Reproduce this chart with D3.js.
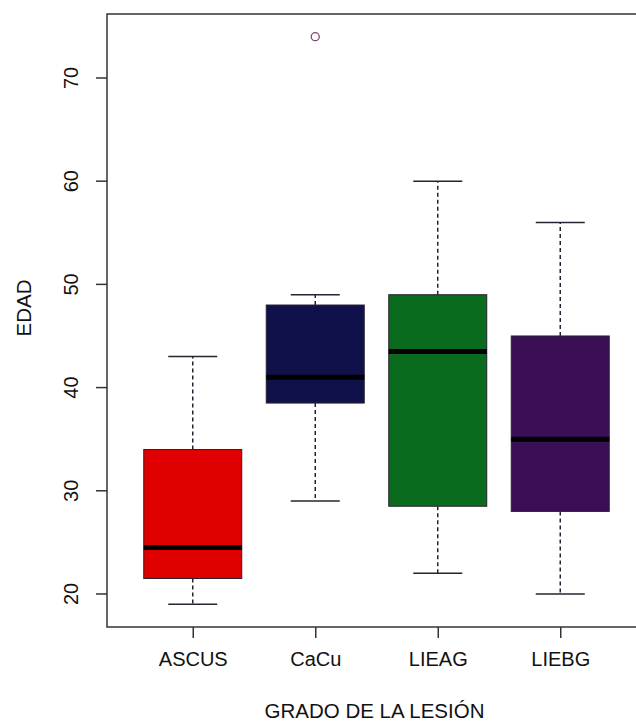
<!DOCTYPE html>
<html>
<head>
<meta charset="utf-8">
<script src="https://cdn.jsdelivr.net/npm/d3@7"></script>
<style>
  body { margin: 0; background: #fff; }
  svg { display: block; font-family: "Liberation Sans", Arial, sans-serif; }
</style>
</head>
<body>
<svg id="chart" width="636" height="722"></svg>
<script>
// boxplot stats
var categories = ["ASCUS", "CaCu", "LIEAG", "LIEBG"];
var whiskerLow = [19, 29, 22, 20];
var q1 = [21.5, 38.5, 28.5, 28];
var median = [24.5, 41, 43.5, 35];
var q3 = [34, 48, 49, 45];
var whiskerHigh = [43, 49, 60, 56];
var outliers = [[], [74], [], []];
var fills = ["#e00000", "#10104a", "#0a6a1e", "#3a0f55"];
var yTicks = [20, 30, 40, 50, 60, 70];

var svg = d3.select("#chart"),
	margin = {top: 14, left: 107, bottom: 95},
	height = +svg.attr("height");

var xScale = d3.scaleLinear()
	.domain([0.3, 4.7])
	.range([margin.left, 646]);

var yScale = d3.scaleLinear()
	.domain([16.8, 76.2])
	.range([height - margin.bottom, margin.top]);

var data = categories.map((c, i) => ({
	name: c, pos: i + 1,
	lo: whiskerLow[i], q1: q1[i], med: median[i], q3: q3[i], hi: whiskerHigh[i],
	out: outliers[i], fill: fills[i]
}));

var boxW = 0.4, capW = 0.2;
var ink = "#2a2233";

var g = svg.selectAll("g.box")
	.data(data)
	.enter()
	.append("g")
	.attr("class", "box");

// whiskers (dashed)
g.append("line")
	.attr("x1", d => xScale(d.pos)).attr("x2", d => xScale(d.pos))
	.attr("y1", d => yScale(d.q3)).attr("y2", d => yScale(d.hi))
	.attr("stroke", ink).attr("stroke-width", 1.5)
	.attr("stroke-dasharray", "4,3");
g.append("line")
	.attr("x1", d => xScale(d.pos)).attr("x2", d => xScale(d.pos))
	.attr("y1", d => yScale(d.q1)).attr("y2", d => yScale(d.lo))
	.attr("stroke", ink).attr("stroke-width", 1.5)
	.attr("stroke-dasharray", "4,3");

// caps
["lo", "hi"].forEach(k => {
	g.append("line")
		.attr("x1", d => xScale(d.pos - capW)).attr("x2", d => xScale(d.pos + capW))
		.attr("y1", d => yScale(d[k])).attr("y2", d => yScale(d[k]))
		.attr("stroke", ink).attr("stroke-width", 1.5);
});

// boxes
g.append("rect")
	.attr("x", d => xScale(d.pos - boxW))
	.attr("width", d => xScale(d.pos + boxW) - xScale(d.pos - boxW))
	.attr("y", d => yScale(d.q3))
	.attr("height", d => yScale(d.q1) - yScale(d.q3))
	.attr("fill", d => d.fill)
	.attr("stroke", ink).attr("stroke-width", 1);

// medians
g.append("line")
	.attr("x1", d => xScale(d.pos - boxW)).attr("x2", d => xScale(d.pos + boxW))
	.attr("y1", d => yScale(d.med)).attr("y2", d => yScale(d.med))
	.attr("stroke", "#000").attr("stroke-width", 5);

// outliers
g.selectAll("circle")
	.data(d => d.out.map(v => ({pos: d.pos, v: v})))
	.enter()
	.append("circle")
	.attr("cx", d => xScale(d.pos))
	.attr("cy", d => yScale(d.v))
	.attr("r", 4)
	.attr("fill", "none")
	.attr("stroke", "#7a4a6a")
	.attr("stroke-width", 1.3);

// plot frame (right side runs off the picture)
svg.append("rect")
	.attr("x", margin.left)
	.attr("y", margin.top)
	.attr("width", xScale.range()[1] - margin.left)
	.attr("height", yScale.range()[0] - margin.top)
	.attr("fill", "none")
	.attr("stroke", "#333")
	.attr("stroke-width", 1.5);

// y axis
var yAxis = svg.append("g")
	.attr("transform", `translate(${margin.left},0)`)
	.call(d3.axisLeft(yScale).tickValues(yTicks).tickSize(11).tickPadding(0).tickSizeOuter(0));
yAxis.select(".domain").remove();
yAxis.selectAll("line").attr("stroke", "#333").attr("stroke-width", 1.5);
yAxis.selectAll("text")
	.attr("x", 0).attr("dy", null)
	.attr("transform", d => `translate(-29,${yScale(d)}) rotate(-90)`)
	.attr("y", 0)
	.attr("text-anchor", "middle")
	.attr("font-size", "20px")
	.attr("font-family", "Liberation Sans, Arial, sans-serif")
	.attr("fill", "#111")
	.style("dominant-baseline", "auto");
yAxis.selectAll(".tick").attr("transform", null);
yAxis.selectAll(".tick line")
	.attr("y1", d => yScale(d)).attr("y2", d => yScale(d));

// x axis
var xAxis = svg.append("g")
	.attr("transform", `translate(0,${yScale.range()[0]})`)
	.call(d3.axisBottom(xScale).tickValues([1, 2, 3, 4])
		.tickFormat(d => categories[d - 1]).tickSize(11).tickPadding(14).tickSizeOuter(0));
xAxis.select(".domain").remove();
xAxis.selectAll("line").attr("stroke", "#333").attr("stroke-width", 1.5);
xAxis.selectAll("text")
	.attr("font-size", "20px")
	.attr("font-family", "Liberation Sans, Arial, sans-serif")
	.attr("fill", "#111");

// axis titles
svg.append("text")
	.attr("x", (margin.left + 642) / 2)
	.attr("y", 718)
	.attr("text-anchor", "middle")
	.attr("font-size", "20.5px")
	.attr("fill", "#111")
	.text("GRADO DE LA LESIÓN");

svg.append("text")
	.attr("transform", "translate(31,308) rotate(-90)")
	.attr("text-anchor", "middle")
	.attr("font-size", "20.5px")
	.attr("fill", "#111")
	.text("EDAD");
</script>
</body>
</html>
